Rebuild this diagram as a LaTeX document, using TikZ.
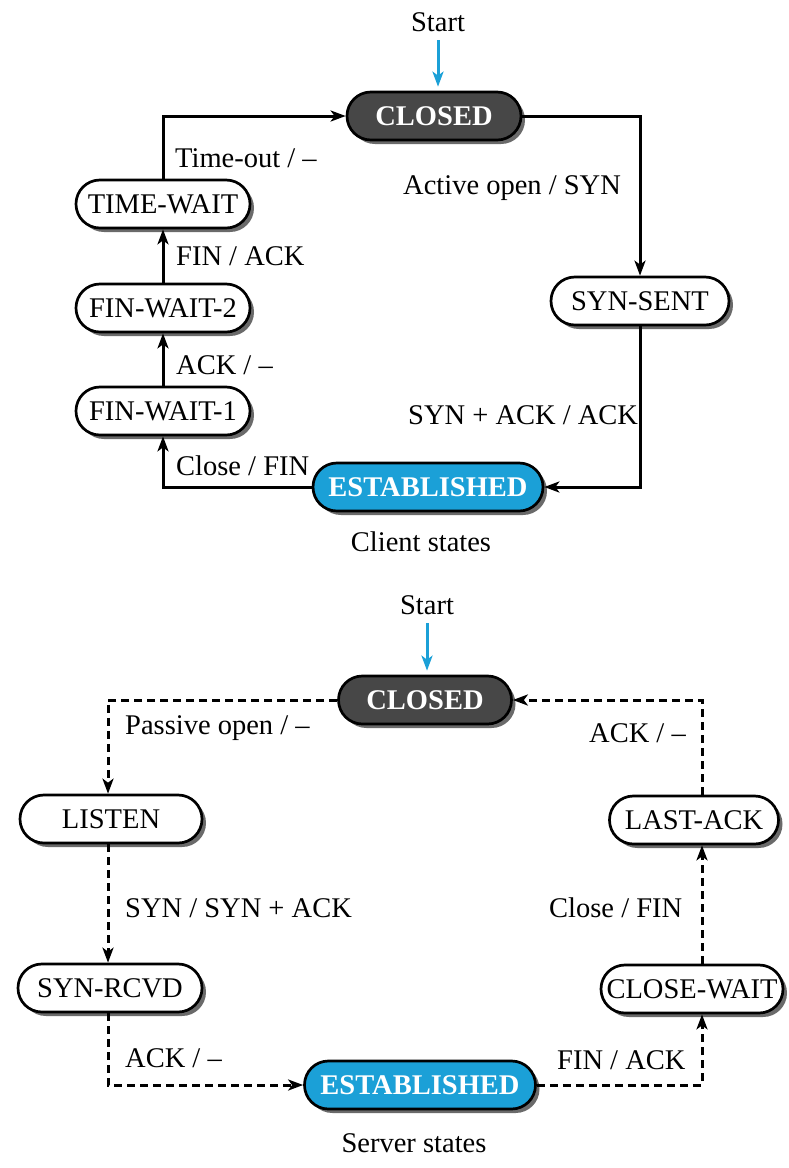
\documentclass[tikz,border=0pt]{standalone}
\usepackage{fontspec}
\setmainfont{Liberation Serif}
\usetikzlibrary{arrows.meta,shadows}
\definecolor{darkstate}{HTML}{474747}
\definecolor{openblue}{HTML}{1BA0D7}
\definecolor{shadowgray}{HTML}{6A6A6A}
\newcommand{\labelfont}{\fontsize{28.5}{32}\selectfont}
\tikzset{
  state/.style={draw=black, line width=2.7pt, fill=white, rounded corners=23.9pt,
    minimum height=48pt, inner sep=0pt,
    font=\labelfont,
    drop shadow={shadow xshift=4pt, shadow yshift=-4pt, fill=shadowgray, opacity=1}},
  darkstate/.style={state, fill=darkstate, text=white, font=\labelfont\bfseries},
  bluestate/.style={state, fill=openblue, text=white, font=\labelfont\bfseries},
  conn/.style={line width=3pt, -{Stealth[length=15pt,width=11pt,inset=4pt]}},
  dconn/.style={conn, dash pattern=on 8pt off 5pt},
  startarrow/.style={line width=3pt, draw=openblue, shorten >=4pt,
    -{Stealth[length=15pt,width=11pt,inset=4pt]}},
  lbl/.style={anchor=base west, inner sep=0pt, font=\labelfont},
  ttl/.style={anchor=base, inner sep=0pt, font=\labelfont},
}
\begin{document}
\begin{tikzpicture}[x=1pt,y=-1pt]
\useasboundingbox (0,0) rectangle (788,1168);

% ---- client side ----
\node[ttl] (start1) at (438,31) {Start};
\node[darkstate, minimum width=174pt] (closed1) at (434,116) {CLOSED};
\node[state, minimum width=178pt] (synsent) at (640,301) {SYN-SENT};
\node[bluestate, minimum width=230pt] (est1) at (428,487) {ESTABLISHED};
\node[state, minimum width=174pt] (fw1) at (163,411) {FIN-WAIT-1};
\node[state, minimum width=174pt] (fw2) at (163,308) {FIN-WAIT-2};
\node[state, minimum width=174pt] (tw) at (163,204) {TIME-WAIT};
\node[ttl] (client) at (421,551) {Client states};

\draw[startarrow] ([yshift=-9pt]start1.south) -- (start1.south |- closed1.north);
\draw[conn] (closed1.east) -| (synsent.north);
\draw[conn] (synsent.south) |- (est1.east);
\draw[conn] (est1.west) -| (fw1.south);
\draw[conn] (fw1.north) -- (fw2.south);
\draw[conn] (fw2.north) -- (tw.south);
\draw[conn] (tw.north) |- (closed1.west);

\node[lbl] (l1) at (175,167) {Time-out / --};
\node[lbl] (l2) at (403,194) {Active open / SYN};
\node[lbl] (l3) at (176,265) {FIN / ACK};
\node[lbl] (l4) at (176,374) {ACK / --};
\node[lbl] (l5) at (408,424) {SYN + ACK / ACK};
\node[lbl] (l6) at (176,475) {Close / FIN};

% ---- server side ----
\node[ttl] (start2) at (427,614) {Start};
\node[darkstate, minimum width=173pt] (closed2) at (425,700) {CLOSED};
\node[state, minimum width=182pt] (listen) at (111,819) {LISTEN};
\node[state, minimum width=184pt] (synrcvd) at (110,988) {SYN-RCVD};
\node[bluestate, minimum width=231pt] (est2) at (420,1085) {ESTABLISHED};
\node[state, minimum width=182pt] (closewait) at (692,989) {CLOSE-WAIT};
\node[state, minimum width=169pt] (lastack) at (694,820) {LAST-ACK};
\node[ttl] (server) at (414,1152) {Server states};
\coordinate (lx) at (108,0);
\coordinate (rx) at (702,0);

\draw[startarrow] ([yshift=-9pt]start2.south) -- (start2.south |- closed2.north);
\draw[dconn] (closed2.west) -| (lx |- listen.north);
\draw[dconn] (lx |- listen.south) -- (lx |- synrcvd.north);
\draw[dconn] (lx |- synrcvd.south) |- (est2.west);
\draw[dconn] (est2.east) -| (rx |- closewait.south);
\draw[dconn] (rx |- closewait.north) -- (rx |- lastack.south);
\draw[dconn] (rx |- lastack.north) |- (closed2.east);

\node[lbl] (m1) at (125,734) {Passive open / --};
\node[lbl] (m2) at (589,742) {ACK / --};
\node[lbl] (m3) at (125,917) {SYN / SYN + ACK};
\node[lbl] (m4) at (549,917) {Close / FIN};
\node[lbl] (m5) at (125,1067) {ACK / --};
\node[lbl] (m6) at (557,1069) {FIN / ACK};
\end{tikzpicture}
\end{document}
